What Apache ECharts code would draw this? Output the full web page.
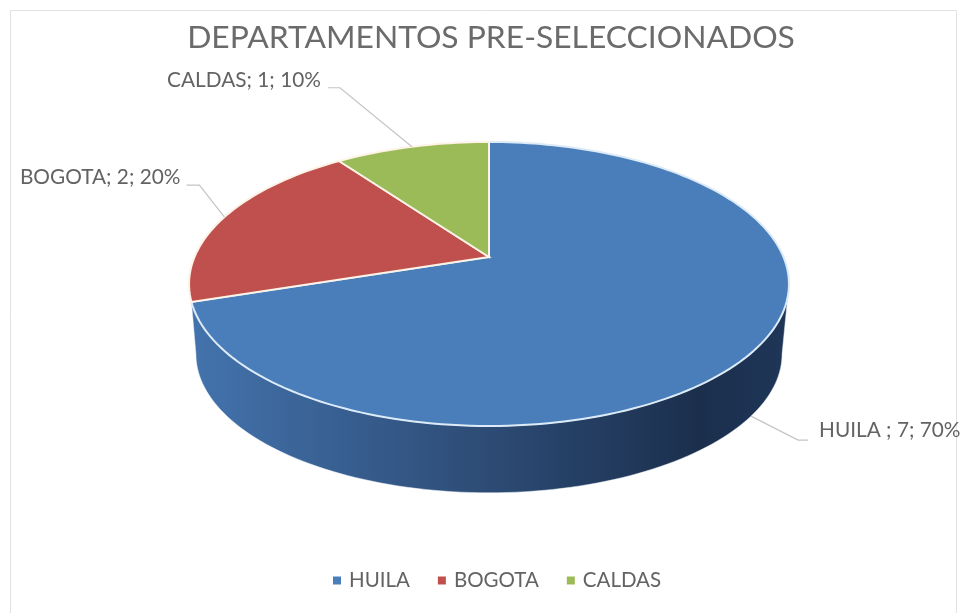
<!DOCTYPE html>
<html>
<head>
<meta charset="utf-8">
<style>html,body{margin:0;padding:0;background:#fff}#c{width:961px;height:613px}</style>
<script src="https://cdn.jsdelivr.net/npm/echarts@6/dist/echarts.min.js"></script>
</head>
<body>
<div id="c"></div>
<script>
const titleText = 'DEPARTAMENTOS PRE-SELECCIONADOS';
const categories = ['HUILA ', 'BOGOTA', 'CALDAS'];
const values = [7, 2, 1];
const colors = ['#4a7ebb', '#c0504d', '#9bbb59'];

const total = values.reduce((a, b) => a + b, 0);
const fontName = 'Lato';
const textColor = '#636363';

// Perspective projection of the pie disc (angles clockwise from the top).
const P = { x: 489, y: 257, a: 294.5, b: 136.9, k: 0.19, midY: 284, depthScale: 0.977, bottomMidY: 354 };
function topPoint(deg) {
  const t = deg * Math.PI / 180, u = Math.sin(t), v = -Math.cos(t), w = 1 - P.k * v;
  return [P.x + P.a * u / w, P.y + P.b * v / w];
}
function bottomPoint(deg) {
  const p = topPoint(deg);
  return [P.x + P.depthScale * (p[0] - P.x), P.bottomMidY + P.depthScale * (p[1] - P.midY)];
}
function arc(fn, from, to) {
  const n = Math.ceil(Math.abs(to - from) / 1.5), pts = [];
  for (let i = 0; i <= n; i++) pts.push(fn(from + (to - from) * i / n));
  return pts;
}
function sliceAngles(i) {
  let before = 0;
  for (let j = 0; j < i; j++) before += values[j];
  return [before / total * 360, (before + values[i]) / total * 360];
}

// Label placement relative to each slice's mid-angle anchor.
const labelLayout = [
  { useBottom: true, knee: [47, 24], end: [57, 24], text: [68, 14], align: 'left' },
  { useBottom: false, knee: [-25, -32], end: [-38, -32], text: [-44, -40], align: 'right' },
  { useBottom: false, knee: [-72, -59], end: [-84, -59], text: [-91, -66], align: 'right' }
];

function renderSlice(params, api) {
  const i = params.seriesIndex;
  const [a0, a1] = sliceAngles(i);
  const children = [];
  if (i === 0) {
    const side = arc(topPoint, 101, 252).concat(arc(bottomPoint, 259, 101));
    children.push({
      type: 'polygon',
      shape: { points: side },
      style: {
        fill: new echarts.graphic.LinearGradient(0, 0, 1, 0, [
          { offset: 0, color: '#4373ad' },
          { offset: 0.45, color: '#2f4f7a' },
          { offset: 0.85, color: '#1b2f4d' },
          { offset: 1, color: '#1f3658' }
        ]),
        stroke: '#e8f1f8',
        lineWidth: 0.5
      }
    });
  }
  children.push({
    type: 'polygon',
    shape: { points: [[P.x, P.y]].concat(arc(topPoint, a0, a1)) },
    style: { fill: colors[i], stroke: i === 0 ? '#dcebf7' : '#fdf3e6', lineWidth: 2 }
  });
  const mid = (a0 + a1) / 2, L = labelLayout[i];
  const anchor = (L.useBottom ? bottomPoint : topPoint)(mid);
  children.push({
    type: 'polyline',
    shape: { points: [anchor, [anchor[0] + L.knee[0], anchor[1] + L.knee[1]], [anchor[0] + L.end[0], anchor[1] + L.end[1]]] },
    style: { fill: 'none', stroke: '#c4c4c4', lineWidth: 1.2 }
  });
  children.push({
    type: 'text',
    x: anchor[0] + L.text[0],
    y: anchor[1] + L.text[1],
    style: {
      text: categories[i] + '; ' + values[i] + '; ' + Math.round(values[i] / total * 100) + '%',
      font: '20.8px ' + fontName,
      fill: textColor,
      align: L.align,
      verticalAlign: 'middle'
    }
  });
  return { type: 'group', children };
}

const chart = echarts.init(document.getElementById('c'), null, { renderer: 'canvas' });
chart.setOption({
  animation: false,
  backgroundColor: '#ffffff',
  color: colors,
  title: {
    text: titleText,
    left: 486,
    top: 17,
    textAlign: 'center',
    textStyle: { fontFamily: fontName, fontWeight: 'normal', fontSize: 31.8, color: '#6b6b6b' }
  },
  legend: {
    left: 328,
    top: 565,
    icon: 'rect',
    itemWidth: 8,
    itemHeight: 8,
    itemGap: 28,
    data: categories.map(c => c.trim()),
    textStyle: { fontFamily: fontName, fontSize: 20.5, color: textColor, padding: [0, 0, 0, 3] }
  },
  graphic: [{
    type: 'rect',
    silent: true,
    shape: { x: 10.5, y: 10.5, width: 946, height: 620 },
    style: { fill: 'none', stroke: '#e2e2e2', lineWidth: 1 }
  }],
  series: categories.map((c, i) => ({
    type: 'custom',
    name: c.trim(),
    coordinateSystem: 'none',
    silent: true,
    renderItem: renderSlice,
    data: [values[i]]
  }))
});
</script>
</body>
</html>
